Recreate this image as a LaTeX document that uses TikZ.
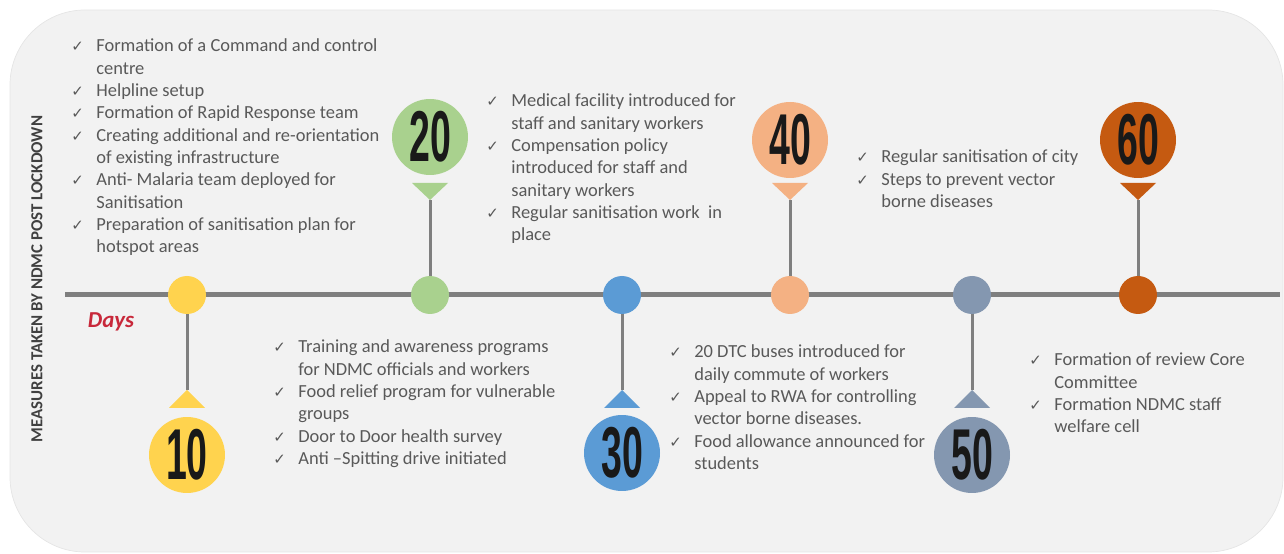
\documentclass[tikz,border=0pt]{standalone}
\usepackage{fontspec}
\usepackage{graphicx}
\setmainfont{Carlito}
\newfontfamily\numfont{Liberation Sans}
\newfontfamily\symfont{DejaVu Sans}
\usetikzlibrary{positioning}

\definecolor{bgfill}{HTML}{F2F2F2}
\definecolor{txtgray}{HTML}{595959}
\definecolor{titlegray}{HTML}{404040}
\definecolor{axisgray}{HTML}{7F7F7F}
\definecolor{daysred}{HTML}{C8283A}
\definecolor{cten}{HTML}{FFD34E}
\definecolor{ctwenty}{HTML}{A9D18E}
\definecolor{cthirty}{HTML}{5B9BD5}
\definecolor{cforty}{HTML}{F4B183}
\definecolor{cfifty}{HTML}{8497B0}
\definecolor{csixty}{HTML}{C55A11}

\newcommand*{\chk}{\makebox[0.5cm][l]{\symfont\fontsize{8.5}{8.5}\selectfont ✓}}
\newcommand*{\daynum}[1]{\scalebox{0.52}[1]{#1}}

\tikzset{
  panel/.style={fill=bgfill, draw=black!10, rounded corners=1.5cm},
  timeline/.style={line width=0.1cm, draw=axisgray},
  stem/.style={line width=0.06cm, draw=axisgray},
  dot/.style={circle, minimum size=0.76cm, inner sep=0pt},
  daybadge/.style={circle, minimum size=1.52cm, inner sep=0pt, text=black!90,
    font=\numfont\bfseries\fontsize{41}{41}\selectfont},
  steplist/.style={anchor=north west, inner sep=0pt, text=txtgray,
    font=\fontsize{10.5}{12.7}\selectfont},
}

\begin{document}
\begin{tikzpicture}[x=0.02cm, y=0.02cm]
    \useasboundingbox (0,0) rectangle (1284,554);
    \fill[panel] (10,2) rectangle (1283,544);

    % title and axis
    \node[rotate=90, text=titlegray, font=\fontsize{9.6}{10}\selectfont\bfseries] (title) at (37,275) {MEASURES TAKEN BY NDMC POST LOCKDOWN};
    \coordinate (lineL) at (65,259);
    \coordinate (lineR) at (1280,259);
    \draw[timeline] (lineL) -- (lineR);
    \node[text=daysred, font=\fontsize{13}{13}\selectfont\bfseries\itshape] (days) at (111,232) {Days};

    % pointer tips
    \coordinate (t10) at (187,164);
    \coordinate (t20) at (430,354);
    \coordinate (t30) at (622,164);
    \coordinate (t40) at (790,354);
    \coordinate (t50) at (972,164);
    \coordinate (t60) at (1138,354);

    % markers on the line
    \node[dot, fill=cten] (m10) at (187,259) {};
    \node[dot, fill=ctwenty] (m20) at (430,259) {};
    \node[dot, fill=cthirty] (m30) at (622,259) {};
    \node[dot, fill=cforty] (m40) at (790,259) {};
    \node[dot, fill=cfifty] (m50) at (972,259) {};
    \node[dot, fill=csixty] (m60) at (1138,259) {};

    \draw[stem] (m10) -- (t10);
    \draw[stem] (m20) -- (t20);
    \draw[stem] (m30) -- (t30);
    \draw[stem] (m40) -- (t40);
    \draw[stem] (m50) -- (t50);
    \draw[stem] (m60) -- (t60);

    \fill[cten] (t10) -- ++(-18,-18) -- ++(36,0) -- cycle;
    \fill[ctwenty] (t20) -- ++(-18,17) -- ++(36,0) -- cycle;
    \fill[cthirty] (t30) -- ++(-18,-18) -- ++(36,0) -- cycle;
    \fill[cforty] (t40) -- ++(-18,17) -- ++(36,0) -- cycle;
    \fill[cfifty] (t50) -- ++(-18,-18) -- ++(36,0) -- cycle;
    \fill[csixty] (t60) -- ++(-18,17) -- ++(36,0) -- cycle;

    % day badges
    \node[daybadge, fill=cten] (d10) at (187,99) {\daynum{10}};
    \node[daybadge, fill=ctwenty] (d20) at (430,417) {\daynum{20}};
    \node[daybadge, fill=cthirty] (d30) at (622,101) {\daynum{30}};
    \node[daybadge, fill=cforty] (d40) at (790,414) {\daynum{40}};
    \node[daybadge, fill=cfifty] (d50) at (972,99) {\daynum{50}};
    \node[daybadge, fill=csixty] (d60) at (1138,414) {\daynum{60}};

    % measures
    \node[steplist] (s10) at (71,518) {\begin{tabular}{@{}l@{}l@{}}
      \chk & Formation of a Command and control\\
           & centre\\
      \chk & Helpline setup\\
      \chk & Formation of Rapid Response team\\
      \chk & Creating additional and re-orientation\\
           & of existing infrastructure\\
      \chk & Anti- Malaria team deployed for\\
           & Sanitisation\\
      \chk & Preparation of sanitisation plan for\\
           & hotspot areas
    \end{tabular}};
    \node[steplist] (s20) at (273,217) {\begin{tabular}{@{}l@{}l@{}}
      \chk & Training and awareness programs\\
           & for NDMC officials and workers\\
      \chk & Food relief program for vulnerable\\
           & groups\\
      \chk & Door to Door health survey\\
      \chk & Anti –Spitting drive initiated
    \end{tabular}};
    \node[steplist] (s30) at (486,463) {\begin{tabular}{@{}l@{}l@{}}
      \chk & Medical facility introduced for\\
           & staff and sanitary workers\\
      \chk & Compensation policy\\
           & introduced for staff and\\
           & sanitary workers\\
      \chk & Regular sanitisation work~ in\\
           & place
    \end{tabular}};
    \node[steplist] (s40) at (669,212) {\begin{tabular}{@{}l@{}l@{}}
      \chk & 20 DTC buses introduced for\\
           & daily commute of workers\\
      \chk & Appeal to RWA for controlling\\
           & vector borne diseases.\\
      \chk & Food allowance announced for\\
           & students
    \end{tabular}};
    \node[steplist] (s50) at (856,407) {\begin{tabular}{@{}l@{}l@{}}
      \chk & Regular sanitisation of city\\
      \chk & Steps to prevent vector\\
           & borne diseases
    \end{tabular}};
    \node[steplist] (s60) at (1029,204) {\begin{tabular}{@{}l@{}l@{}}
      \chk & Formation of review Core\\
           & Committee\\
      \chk & Formation NDMC staff\\
           & welfare cell
    \end{tabular}};
\end{tikzpicture}
\end{document}
